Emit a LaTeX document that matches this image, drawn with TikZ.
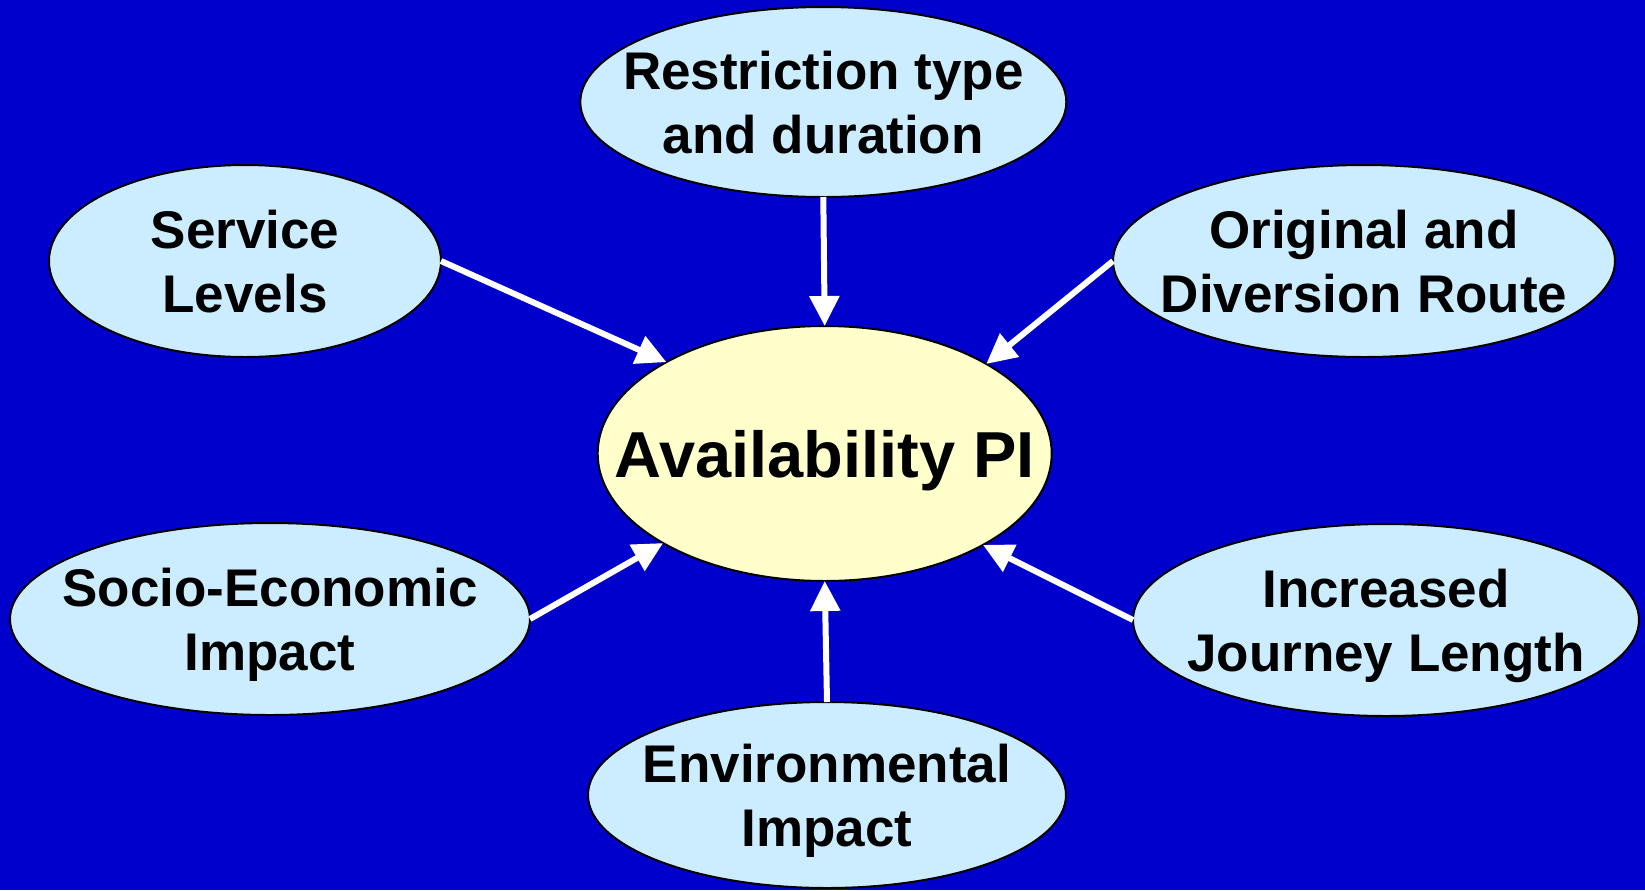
\documentclass[tikz,border=0pt]{standalone}
\usepackage{fontspec}
\setmainfont{Liberation Sans}
\usetikzlibrary{arrows.meta,shapes.geometric}
\definecolor{bgblue}{RGB}{0,0,204}
\definecolor{lightblue}{RGB}{204,236,255}
\definecolor{paleyellow}{RGB}{255,255,204}
\tikzset{
  oval/.style={ellipse, draw=black, line width=1pt, fill=lightblue, inner sep=-150pt, outer sep=0pt, align=center, text depth=0pt, font=\bfseries\fontsize{26.5}{32}\selectfont},
  hub/.style={oval, fill=paleyellow, font=\bfseries\fontsize{32.5}{38}\selectfont},
  link/.style={draw=white, line width=3pt, -{Triangle[length=15pt,width=14.5pt]}}
}
\begin{document}
\begin{tikzpicture}[x=0.5pt,y=-0.5pt]
\fill[bgblue] (0,0) rectangle (1645,890);
\useasboundingbox (0,0) rectangle (1645,890);
\node[hub, minimum width=227pt, minimum height=127.5pt] (c) at (824.7,453.5) {Availability PI};
\node[oval, minimum width=243pt, minimum height=95pt] (rt) at (823.3,102) {Restriction type\\and duration};
\node[oval, minimum width=196pt, minimum height=96pt] (sl) at (245,261) {Service\\Levels};
\node[oval, minimum width=251pt, minimum height=96pt] (od) at (1364,261) {Original and\\Diversion Route};
\node[oval, minimum width=260pt, minimum height=96pt] (se) at (270,619) {Socio-Economic\\Impact};
\node[oval, minimum width=253pt, minimum height=96pt] (ij) at (1386,620) {Increased\\Journey Length};
\node[oval, minimum width=239pt, minimum height=93pt] (ei) at (827,795) {Environmental\\Impact};
\draw[link] (rt.south) -- (c.north);
\draw[link] (sl.east) -- (c.150.5);
\draw[link] (od.west) -- (c.29.6);
\draw[link] (se.east) -- (c.209.5);
\draw[link] (ij.west) -- (c.330.4);
\draw[link] (ei.north) -- (c.south);
\end{tikzpicture}
\end{document}
